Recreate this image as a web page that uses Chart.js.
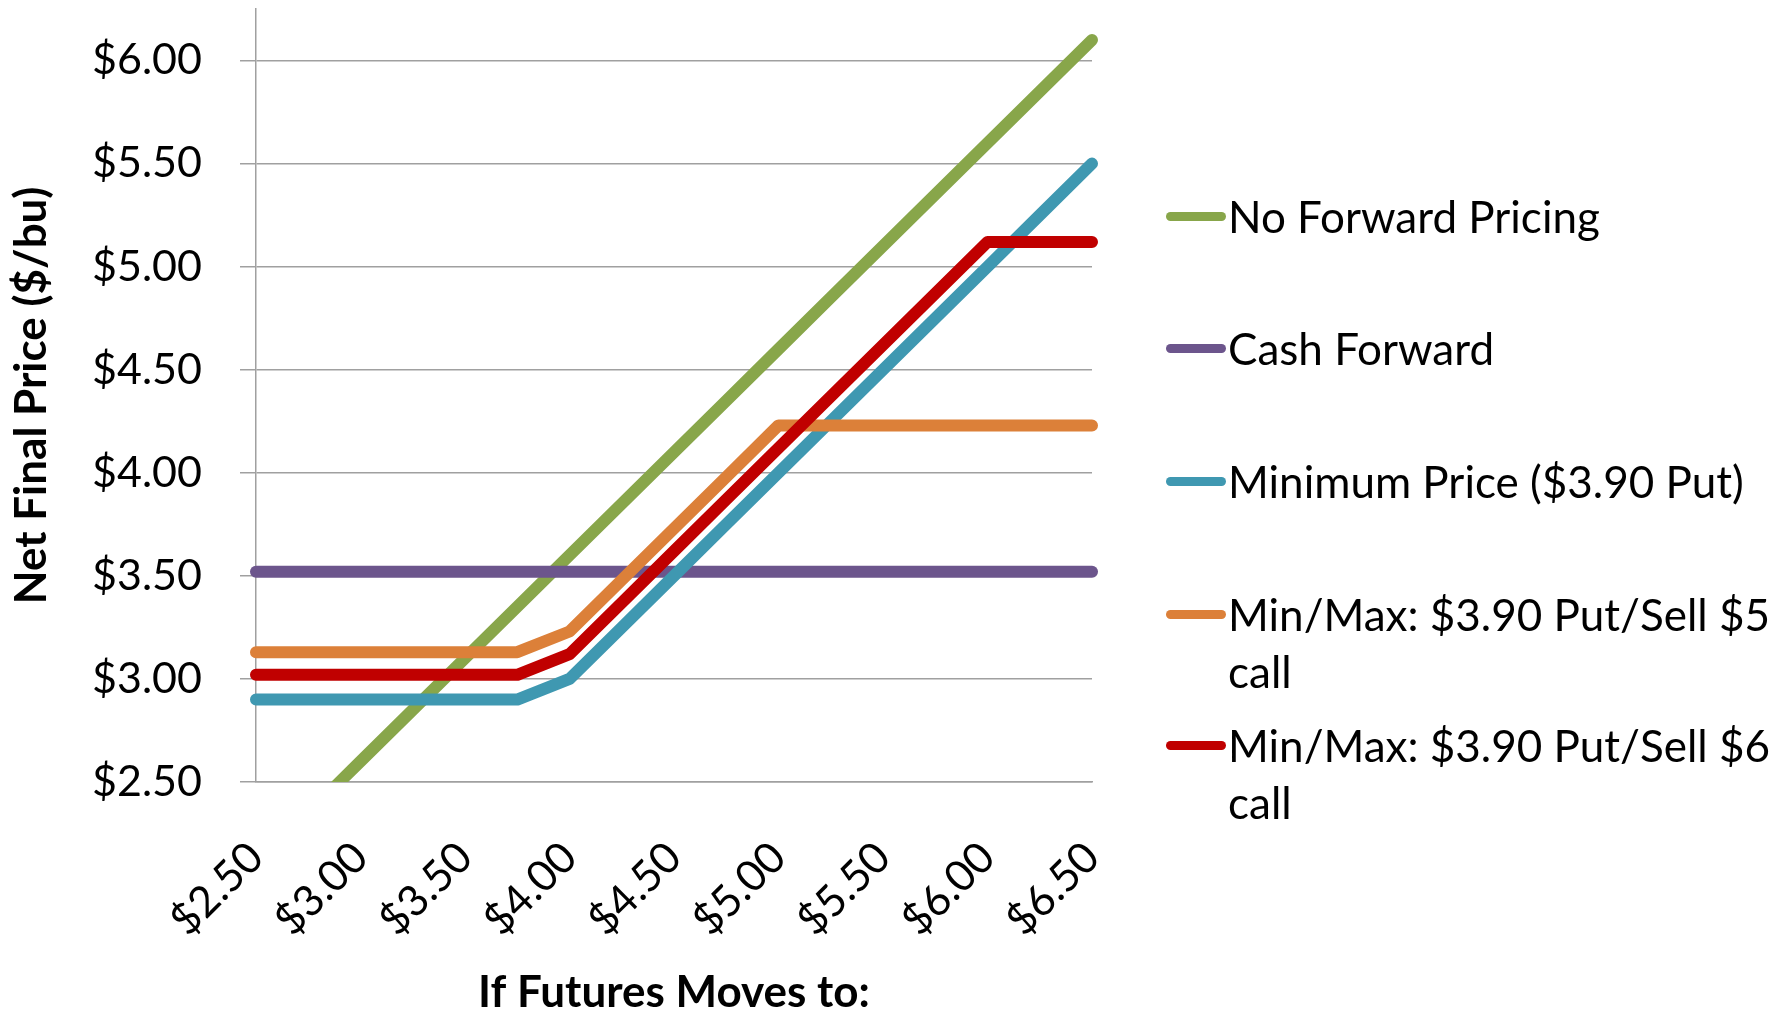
<!DOCTYPE html>
<html>
<head>
<meta charset="utf-8">
<script src="https://cdn.jsdelivr.net/npm/chart.js@4"></script>
<style>
  body { margin: 0; background: #fff; }
  #wrap { position: relative; width: 1783px; height: 1015px; }
  #legend { position: absolute; left: 1166px; top: 0; font-family: Lato, sans-serif; font-size: 44px; color: #000; }
  .item { position: absolute; left: 0; width: 620px; }
  .swatch { position: absolute; left: 0; width: 60px; height: 9px; border-radius: 5px; }
  .label { position: absolute; left: 62px; width: 580px; line-height: 57px; }
</style>
</head>
<body>
<div id="wrap">
  <canvas id="chart" width="1783" height="1015"></canvas>
  <div id="legend"></div>
</div>
<script>
// futures price (x)
var futures = [2.50, 2.75, 3.00, 3.25, 3.50, 3.75, 4.00, 4.25, 4.50, 4.75, 5.00, 5.25, 5.50, 5.75, 6.00, 6.25, 6.50];

var noForward   = [2.10, 2.35, 2.60, 2.85, 3.10, 3.35, 3.60, 3.85, 4.10, 4.35, 4.60, 4.85, 5.10, 5.35, 5.60, 5.85, 6.10];
var cashForward = [3.52, 3.52, 3.52, 3.52, 3.52, 3.52, 3.52, 3.52, 3.52, 3.52, 3.52, 3.52, 3.52, 3.52, 3.52, 3.52, 3.52];
var minPrice    = [2.90, 2.90, 2.90, 2.90, 2.90, 2.90, 3.00, 3.25, 3.50, 3.75, 4.00, 4.25, 4.50, 4.75, 5.00, 5.25, 5.50];
var minMax5     = [3.13, 3.13, 3.13, 3.13, 3.13, 3.13, 3.23, 3.48, 3.73, 3.98, 4.23, 4.23, 4.23, 4.23, 4.23, 4.23, 4.23];
var minMax6     = [3.02, 3.02, 3.02, 3.02, 3.02, 3.02, 3.12, 3.37, 3.62, 3.87, 4.12, 4.37, 4.62, 4.87, 5.12, 5.12, 5.12];

var seriesNames  = ["No Forward Pricing", "Cash Forward", "Minimum Price ($3.90 Put)", "Min/Max: $3.90 Put/Sell $5 call", "Min/Max: $3.90 Put/Sell $6 call"];
var seriesValues = [noForward, cashForward, minPrice, minMax5, minMax6];
var seriesColors = ["#88a64a", "#6c558c", "#3f98b1", "#dc8039", "#c00000"];

// legend row tops (px)
var legendTops = [188, 320, 453, 586, 717];

var datasets = seriesValues.map(function (vals, i) {
  return {
    label: seriesNames[i],
    data: vals.map(function (v, j) { return { x: futures[j], y: v }; }),
    borderColor: seriesColors[i],
    backgroundColor: seriesColors[i],
    borderWidth: 12,
    borderCapStyle: "round",
    borderJoinStyle: "round",
    pointRadius: 0,
    fill: false,
    tension: 0,
    order: seriesValues.length - i,
    clip: { left: 8, top: 8, right: 8, bottom: 0 },
  };
});

var money = function (v) { return "$" + Number(v).toFixed(2); };
var halfSteps = function (s) {
  s.ticks = s.ticks.filter(function (t) { return Math.abs(t.value * 2 - Math.round(t.value * 2)) < 1e-6; });
};

new Chart(document.getElementById("chart").getContext("2d"), {
  type: "line",
  data: { datasets: datasets },
  options: {
    responsive: false,
    animation: false,
    devicePixelRatio: 1,
    layout: { padding: { top: 9, right: 691, left: 0, bottom: 0 } },
    plugins: { legend: { display: false }, tooltip: { enabled: false } },
    scales: {
      x: {
        type: "linear",
        min: 2.5,
        max: 6.5,
        afterBuildTicks: halfSteps,
        afterFit: function (s) { s.height = 233; s.paddingLeft = 0; s.paddingRight = 0; },
        grid: { display: false },
        border: { display: true, color: "#a0a0a0", width: 1.5 },
        ticks: {
          stepSize: 0.5,
          minRotation: 45,
          maxRotation: 45,
          padding: 42,
          color: "#000",
          font: { family: "Lato", size: 43 },
          callback: money,
        },
        title: {
          display: true,
          text: "If Futures Moves to:",
          color: "#000",
          font: { family: "Lato", size: 44, weight: "bold", lineHeight: 1 },
          padding: { top: 0, bottom: 0 },
        },
      },
      y: {
        min: 2.5,
        max: 6.25,
        afterBuildTicks: halfSteps,
        afterFit: function (s) { s.width = 256; s.paddingTop = 0; s.paddingBottom = 0; },
        grid: { color: "#a0a0a0", lineWidth: 1.5, tickLength: 16 },
        border: { display: true, color: "#a0a0a0", width: 1.5 },
        ticks: {
          stepSize: 0.5,
          padding: 38,
          color: "#000",
          font: { family: "Lato", size: 43 },
          callback: money,
        },
        title: {
          display: true,
          text: "Net Final Price ($/bu)",
          color: "#000",
          font: { family: "Lato", size: 44, weight: "bold", lineHeight: 1 },
          padding: { top: 10, bottom: 0 },
        },
      },
    },
  },
});

// html legend built from the same series arrays
var legend = document.getElementById("legend");
seriesNames.forEach(function (name, i) {
  var item = document.createElement("div");
  item.className = "item";
  item.style.top = legendTops[i] + "px";
  var sw = document.createElement("div");
  sw.className = "swatch";
  sw.style.background = seriesColors[i];
  sw.style.top = "24px";
  var lb = document.createElement("div");
  lb.className = "label";
  lb.textContent = name;
  item.appendChild(sw);
  item.appendChild(lb);
  legend.appendChild(item);
});
</script>
</body>
</html>
